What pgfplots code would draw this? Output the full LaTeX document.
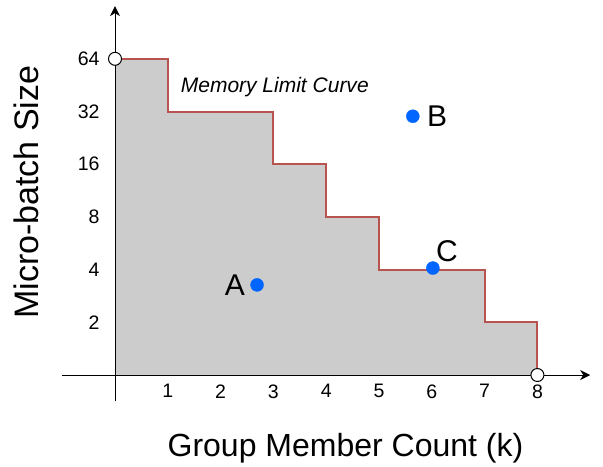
\documentclass[border=0pt]{standalone}
\usepackage{pgfplots}
\pgfplotsset{compat=1.18}
\usepackage{fontspec}
\setmainfont{Liberation Sans}
\usetikzlibrary{arrows.meta}

\definecolor{limitred}{HTML}{B85450}
\definecolor{shade}{HTML}{CCCCCC}
\definecolor{dotblue}{HTML}{0066FF}

\begin{document}
\begin{tikzpicture}
\begin{axis}[
	set layers,
	scale only axis,
	width=528pt,
	height=395.25pt,
	xmin=-1, xmax=9,
	ymin=-0.5, ymax=7,
	axis lines=middle,
	axis line style={line width=1pt, -{Stealth[length=10pt,width=10pt,inset=3pt]}},
	major tick length=0pt,
	xtick={1,...,8},
	xticklabels={1,2,3,4,5,6,7,8},
	ytick={1,...,6},
	yticklabels={2,4,8,16,32,64},
	tick label style={font=\fontsize{19.5}{22}\selectfont},
	ytick style={draw=none},
	xtick style={draw=none},
	yticklabel style={xshift=-12pt},
	xticklabel style={yshift=-6pt},
	clip=false,
]
	% shaded feasible region under the step curve
	\addplot[fill=shade, draw=none, on layer=axis background] coordinates {
		(0,0) (0,6) (1,6) (1,5) (3,5) (3,4) (4,4) (4,3)
		(5,3) (5,2) (7,2) (7,1) (8,1) (8,0) (0,0)
	};
	% memory limit step curve
	\addplot[limitred, line width=2pt, line join=miter] coordinates {
		(0,6) (1,6) (1,5) (3,5) (3,4) (4,4) (4,3)
		(5,3) (5,2) (7,2) (7,1) (8,1) (8,0)
	};
	% open end points
	\addplot[only marks, mark=*, mark size=6.5pt,
		mark options={fill=white, draw=black, line width=1pt}] coordinates {(0,6) (8,0)};
	% configurations A, B, C
	\addplot[only marks, mark=*, mark size=6.5pt, color=dotblue,
		nodes near coords={A},
		every node near coord/.style={anchor=east, xshift=-10pt, inner sep=2pt, text=black,
			font=\fontsize{30}{34}\selectfont}] coordinates {(2.69,1.71)};
	\addplot[only marks, mark=*, mark size=6.5pt, color=dotblue,
		nodes near coords={B},
		every node near coord/.style={anchor=west, xshift=12pt, inner sep=2pt, text=black,
			font=\fontsize{30}{34}\selectfont}] coordinates {(5.64,4.91)};
	\addplot[only marks, mark=*, mark size=6.5pt, color=dotblue,
		nodes near coords={C},
		every node near coord/.style={anchor=south west, xshift=2pt, yshift=5pt, inner sep=1pt, text=black,
			font=\fontsize{30}{34}\selectfont}] coordinates {(6.02,2.03)};

	\node[anchor=base west, font=\itshape\fontsize{21}{24}\selectfont] at (axis cs:1.18,5.37) {Memory Limit Curve};
	\node[anchor=base, font=\fontsize{32}{38}\selectfont] at (axis cs:4.365,-1.537) {Group Member Count (k)};
	\node[anchor=base, rotate=90, font=\fontsize{34}{40}\selectfont] at (axis cs:-1.458,3.47) {Micro-batch Size};
	\path (axis cs:-2.178,-1.727) rectangle (axis cs:9.242,7.116);
\end{axis}
\end{tikzpicture}
\end{document}
